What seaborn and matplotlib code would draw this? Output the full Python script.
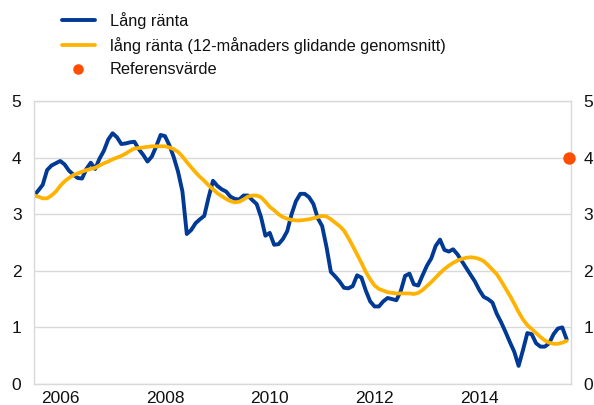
import numpy as np
import pandas as pd
import matplotlib
matplotlib.use('Agg')
import matplotlib.pyplot as plt
import seaborn as sns

# monthly data, Jan 2006 onwards
lang_ranta = [
    3.33, 3.42, 3.52, 3.78, 3.86, 3.90, 3.94, 3.88, 3.77, 3.70, 3.64, 3.63,
    3.80, 3.91, 3.80, 3.98, 4.12, 4.32, 4.43, 4.36, 4.24, 4.25, 4.27, 4.28,
    4.15, 4.05, 3.93, 4.02, 4.20, 4.40, 4.38, 4.22, 4.01, 3.75, 3.40, 2.65,
    2.72, 2.84, 2.91, 2.97, 3.30, 3.59, 3.50, 3.44, 3.40, 3.31, 3.27, 3.26,
    3.33, 3.33, 3.25, 3.18, 2.95, 2.62, 2.67, 2.46, 2.47, 2.56, 2.70, 3.00,
    3.23, 3.36, 3.36, 3.30, 3.18, 2.93, 2.79, 2.42, 1.98, 1.90, 1.81, 1.70,
    1.69, 1.73, 1.92, 1.88, 1.65, 1.46, 1.37, 1.37, 1.46, 1.52, 1.50, 1.48,
    1.64, 1.91, 1.95, 1.76, 1.74, 1.92, 2.09, 2.22, 2.44, 2.55, 2.37, 2.34,
    2.38, 2.29, 2.17, 2.05, 1.93, 1.81, 1.66, 1.54, 1.50, 1.44, 1.24, 1.09,
    0.92, 0.74, 0.57, 0.32, 0.60, 0.90, 0.88, 0.72, 0.66, 0.66, 0.72, 0.88,
    0.98, 1.00, 0.79,
]
lang_ranta_12m = [
    3.33, 3.31, 3.28, 3.28, 3.33, 3.40, 3.50, 3.58, 3.64, 3.69, 3.72, 3.75,
    3.78, 3.80, 3.82, 3.86, 3.90, 3.93, 3.97, 4.00, 4.03, 4.07, 4.12, 4.16,
    4.17, 4.18, 4.19, 4.20, 4.20, 4.20, 4.20, 4.18, 4.15, 4.10, 4.02, 3.92,
    3.83, 3.74, 3.66, 3.59, 3.51, 3.44, 3.37, 3.32, 3.27, 3.23, 3.21, 3.22,
    3.26, 3.31, 3.33, 3.33, 3.30, 3.22, 3.13, 3.07, 3.00, 2.95, 2.92, 2.90,
    2.89, 2.89, 2.90, 2.91, 2.93, 2.95, 2.97, 2.96, 2.91, 2.85, 2.79, 2.71,
    2.58, 2.44, 2.29, 2.14, 1.98, 1.85, 1.74, 1.68, 1.65, 1.62, 1.61, 1.60,
    1.60, 1.60, 1.60, 1.59, 1.61, 1.66, 1.73, 1.80, 1.88, 1.96, 2.03, 2.09,
    2.14, 2.18, 2.21, 2.23, 2.24, 2.23, 2.21, 2.17, 2.10, 2.02, 1.94, 1.82,
    1.69, 1.56, 1.42, 1.27, 1.14, 1.04, 0.97, 0.90, 0.83, 0.77, 0.73, 0.71,
    0.71, 0.73, 0.76,
]
referensvarde = 4.0
year_labels = ['2006', '2008', '2010', '2012', '2014']

BLUE = '#003A94'
YELLOW = '#FFB300'
RED = '#FF4E00'
GRID = '#D9D9D9'

months = pd.date_range('2006-01-01', periods=len(lang_ranta), freq='MS')
t = np.asarray(months.year + (months.month - 1) / 12, dtype=float)
df = pd.DataFrame({'t': t, 'lang': lang_ranta, 'snitt': lang_ranta_12m})

sns.set_style('white')
plt.rcParams['font.family'] = ['Liberation Sans', 'DejaVu Sans']

fig = plt.figure(figsize=(5.94, 4.05), dpi=100)
ax = fig.add_axes([34 / 594, 21 / 405, 537 / 594, 283 / 405])

sns.lineplot(data=df, x='t', y='lang', color=BLUE, lw=2.8, ax=ax, label='Lång ränta')
sns.lineplot(data=df, x='t', y='snitt', color=YELLOW, lw=2.7, ax=ax,
             label='lång ränta (12-månaders glidande genomsnitt)')
ax.scatter([t[-1] + 0.05], [referensvarde], s=80, color=RED, zorder=5, clip_on=False,
           linewidths=0, label='Referensvärde')

ax.set_xlim(2006, 2016.25)
ax.set_ylim(0, 5)
ax.set_xlabel('')
ax.set_ylabel('')

ax.set_yticks(range(6))
ax.yaxis.grid(True, color=GRID, lw=1)
ax.set_axisbelow(True)
ax.tick_params(axis='y', length=0, pad=9, labelsize=12.5, labelright=True, labelcolor='#111111')

ax.set_xticks([int(y) + 0.5 for y in year_labels])
ax.set_xticklabels(year_labels)
ax.set_xticks(range(2007, 2017), minor=True)
ax.tick_params(axis='x', which='major', length=0, pad=5, labelsize=12.5, labelcolor='#111111')
ax.tick_params(axis='x', which='minor', length=4, width=1, color=GRID, direction='out')

for s in ax.spines.values():
    s.set_color(GRID)
    s.set_linewidth(1)

ax.get_legend().remove()
h, l = ax.get_legend_handles_labels()
fig.legend(h, l, loc='upper left', bbox_to_anchor=(62 / 594, 1 - 12 / 405), frameon=False,
           fontsize=11.8, handlelength=2.0, handletextpad=0.9, labelspacing=0.48,
           borderpad=0, borderaxespad=0, markerscale=0.85, labelcolor='#111111')

fig.savefig('out.png', dpi=100)
